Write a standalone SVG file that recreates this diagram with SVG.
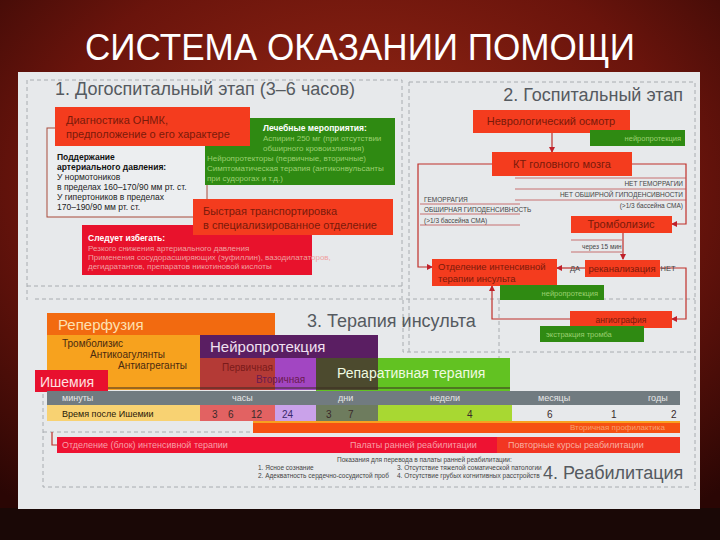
<svg xmlns="http://www.w3.org/2000/svg" width="720" height="540" viewBox="0 0 720 540">
<defs>
<radialGradient id="bg" cx="0.5" cy="0.35" r="0.75">
<stop offset="0" stop-color="#9c2a16"/>
<stop offset="0.6" stop-color="#6a140c"/>
<stop offset="1" stop-color="#2a0604"/>
</radialGradient>
<marker id="dot" viewBox="0 0 6 6" refX="5" refY="3" markerWidth="5" markerHeight="5" orient="auto"><path d="M0,0 L6,3 L0,6 z" fill="#c0202a"/></marker>
</defs>
<style>
text{font-family:"Liberation Sans",Arial,sans-serif}
.sec{font-size:18px;fill:#555a60}
.dash{fill:none;stroke:#a8acb0;stroke-width:1;stroke-dasharray:4 3}
.red{fill:#f43c1e}
.rt{font-size:11px;fill:#7a1a0a}
.grn{fill:#2f8a12}
.gt{font-size:8px;fill:#9ad070}
.wl{font-size:8px;fill:#f0a0a0}
.con{fill:none;stroke:#c0302a;stroke-width:1.2}
.thin{stroke:#c05050;stroke-width:0.8}
.sm{font-size:6.5px;fill:#444}
.bt{font-size:8.5px;fill:#222}
.tl{font-size:9px;fill:#e8e8e8}
.tn{font-size:10px;fill:#4a2a10}
</style>
<rect width="720" height="540" fill="url(#bg)"/>
<rect y="508" width="720" height="32" fill="#1a0806"/>
<text x="360" y="60" text-anchor="middle" font-size="36" fill="#ffffff" textLength="550" lengthAdjust="spacingAndGlyphs">СИСТЕМА ОКАЗАНИИ ПОМОЩИ</text>

<rect x="18" y="72" width="682" height="437" fill="#e7e9eb"/>

<g id="dashes">
<path class="dash" d="M27 80 V300"/>
<path class="dash" d="M30 80 H402 V298"/>
<path class="dash" d="M27 286 H402"/>
<path class="dash" d="M35 299 H695"/>
<path class="dash" d="M409 82 H695 V490"/>
<path class="dash" d="M409 82 V352"/>
<path class="dash" d="M403 300 V352 H695"/>
<path class="dash" d="M499 300 V420"/>
<path class="dash" d="M43 380 V487 H690"/>
<path class="dash" d="M43 432 H253"/>
</g>

<g id="s1">
<text class="sec" x="55" y="95">1. Догоспитальный этап (3–6 часов)</text>
</g>

<g id="bp">
<rect x="47" y="128" width="160" height="89" fill="#eceef0" stroke="#a84a3a" stroke-width="1"/>
<text x="57" y="160" font-size="8.5" font-weight="bold" fill="#111">Поддержание</text>
<text x="57" y="170" font-size="8.5" font-weight="bold" fill="#111">артериального давления:</text>
<text class="bt" x="57" y="180">У нормотоников</text>
<text class="bt" x="57" y="190">в пределах 160–170/90 мм рт. ст.</text>
<text class="bt" x="57" y="200">У гипертоников в пределах</text>
<text class="bt" x="57" y="210">170–190/90 мм рт. ст.</text>
</g>

<g id="treat">
<rect class="grn" x="205" y="118" width="190" height="67"/>
<text x="263" y="131" font-size="8.5" font-weight="bold" fill="#ffffff">Лечебные мероприятия:</text>
<text class="gt" x="263" y="141">Аспирин 250 мг (при отсутствии</text>
<text class="gt" x="263" y="151">обширного кровоизлияния)</text>
<text class="gt" x="207" y="161">Нейропротекторы (первичные, вторичные)</text>
<text class="gt" x="207" y="171">Симптоматическая терапия (антиконвульсанты</text>
<text class="gt" x="207" y="181">при судорогах и т.д.)</text>
</g>

<g id="diag">
<rect class="red" x="55" y="107" width="195" height="39"/>
<text class="rt" x="66" y="124">Диагностика ОНМК,</text>
<text class="rt" x="66" y="138">предположение о его характере</text>
</g>

<g id="avoid">
<rect x="82" y="225" width="230" height="50" fill="#e8122c"/>
<text x="88" y="241" font-size="8.5" font-weight="bold" fill="#ffffff">Следует избегать:</text>
<text class="wl" x="88" y="251">Резкого снижения артериального давления</text>
<text class="wl" x="88" y="260">Применения сосудорасширяющих (эуфиллин), вазодилататоров,</text>
<text class="wl" x="88" y="269">дегидратантов, препаратов никотиновой кислоты</text>
</g>

<g id="transport">
<rect class="red" x="193" y="199" width="200" height="36"/>
<text class="rt" x="203" y="215">Быстрая транспортировка</text>
<text class="rt" x="203" y="229">в специализированное отделение</text>
</g>

<g id="s2">
<text class="sec" x="683" y="101" text-anchor="end">2. Госпитальный этап</text>
</g>

<g id="connectors">
<path class="con" d="M552 133 V152" marker-end="url(#dot)"/>
<path class="con" d="M492 164 H418 V267 H432" marker-end="url(#dot)"/>
<path class="con" d="M632 164 H686 V224 H672" marker-end="url(#dot)"/>
<path class="con" d="M623 232 V259" marker-end="url(#dot)"/>
<path class="con" d="M585 268 H557" marker-end="url(#dot)"/>
<path class="con" d="M660 268 H686 V319 H672" marker-end="url(#dot)"/>
<path class="con" d="M570 319 H492 V286" marker-end="url(#dot)"/>
<path class="thin" d="M515 178 H686 M515 189 H686 M515 200 H686 M420 204 H520 M420 214 H520 M420 225 H520 M571 240 H622 M571 252 H622"/>
<path class="con" d="M52 432 V445 H57"/>
</g>

<g id="neuro-exam">
<rect class="red" x="473" y="110" width="157" height="23"/>
<text class="rt" x="551" y="125" text-anchor="middle">Неврологический осмотр</text>
</g>
<g id="np1">
<rect class="grn" x="590" y="130" width="95" height="16"/>
<text x="681" y="141" font-size="7.5" fill="#9ad070" text-anchor="end">нейропротекция</text>
</g>
<g id="ct">
<rect class="red" x="492" y="152" width="140" height="24"/>
<text class="rt" x="562" y="168" text-anchor="middle">КТ головного мозга</text>
</g>
<g id="labels-ct">
<text x="683" y="186" font-size="6.5" fill="#444" text-anchor="end">НЕТ ГЕМОРРАГИИ</text>
<text x="683" y="197" font-size="6.5" fill="#444" text-anchor="end">НЕТ ОБШИРНОЙ ГИПОДЕНСИВНОСТИ</text>
<text x="683" y="208" font-size="6.5" fill="#444" text-anchor="end">(&gt;1/3 бассейна СМА)</text>
<text x="424" y="202" font-size="6.5" fill="#444">ГЕМОРРАГИЯ</text>
<text x="424" y="212" font-size="6.5" fill="#444">ОБШИРНАЯ ГИПОДЕНСИВНОСТЬ</text>
<text x="424" y="223" font-size="6.5" fill="#444">(&gt;1/3 бассейна СМА)</text>
<text x="582" y="249" font-size="6.5" fill="#444">через 15 мин</text>
<text x="575" y="271" font-size="7.5" fill="#444" text-anchor="middle">ДА</text>
<text x="668" y="271" font-size="7.5" fill="#444" text-anchor="middle">НЕТ</text>
</g>
<g id="tlz">
<rect class="red" x="571" y="216" width="101" height="17"/>
<text class="rt" x="621" y="228" text-anchor="middle">Тромболизис</text>
</g>
<g id="recan">
<rect class="red" x="585" y="260" width="75" height="17"/>
<text x="622" y="272" font-size="9.5" fill="#7a1a0a" text-anchor="middle">реканализация</text>
</g>
<g id="icu">
<rect class="red" x="432" y="259" width="125" height="27"/>
<text x="438" y="270" font-size="9.5" fill="#7a1a0a">Отделение интенсивной</text>
<text x="438" y="282" font-size="9.5" fill="#7a1a0a">терапии инсульта</text>
</g>
<g id="np2">
<rect class="grn" x="500" y="285" width="104" height="15"/>
<text x="598" y="296" font-size="7.5" fill="#9ad070" text-anchor="end">нейропротекция</text>
</g>
<g id="angio">
<rect class="red" x="570" y="311" width="102" height="17"/>
<text x="621" y="323" font-size="8.5" fill="#7a1a0a" text-anchor="middle">ангиография</text>
</g>
<g id="extr">
<rect class="grn" x="540" y="326" width="104" height="16"/>
<text x="546" y="337" font-size="7.5" fill="#9ad070">экстракция тромба</text>
</g>

<g id="s3">
<text class="sec" x="307" y="327">3. Терапия инсульта</text>
</g>
<g id="reperf">
<rect x="47" y="313" width="228" height="22" fill="#f26a10"/>
<rect x="47" y="335" width="228" height="55" fill="#f7a21e"/>
<text x="58" y="330" font-size="15" fill="#fde0b0">Реперфузия</text>
<text class="tn" x="62" y="347">Тромболизис</text>
<text class="tn" x="90" y="358">Антикоагулянты</text>
<text class="tn" x="118" y="369">Антиагреганты</text>
</g>
<g id="neuroprot">
<rect x="200" y="335" width="178" height="23" fill="#5a1e62"/>
<rect x="200" y="358" width="75" height="32" fill="#b43a36"/>
<rect x="275" y="358" width="41" height="32" fill="#a246c2"/>
<text x="210" y="352" font-size="15" fill="#f0e0f0">Нейропротекция</text>
<text x="222" y="371" font-size="10" fill="#7a1a1a">Первичная</text>
<text x="256" y="383" font-size="10" fill="#6a1a50">Вторичная</text>
</g>
<g id="repar">
<rect x="316" y="358" width="194" height="35" fill="#62c222"/>
<rect x="316" y="358" width="62" height="32" fill="#4c4a2e"/>
<text x="337" y="378" font-size="14" fill="#f0fae0">Репаративная терапия</text>
</g>
<g id="ischemia">
<rect x="35" y="370" width="73" height="22" fill="#e8102e"/>
<text x="40" y="387" font-size="14" fill="#ffe0e0">Ишемия</text>
<path d="M108 388 H510" stroke="#3a2a20" stroke-width="1"/>
</g>
<g id="timeline">
<rect x="47" y="391" width="633" height="14" fill="#717b80"/>
<text class="tl" x="62" y="401">минуты</text>
<text class="tl" x="232" y="401">часы</text>
<text class="tl" x="338" y="401">дни</text>
<text class="tl" x="430" y="401">недели</text>
<text class="tl" x="538" y="401">месяцы</text>
<text class="tl" x="648" y="401">годы</text>
<rect x="47" y="405" width="153" height="16" fill="#f8d272"/>
<rect x="200" y="405" width="75" height="16" fill="#e26262"/>
<rect x="275" y="405" width="41" height="16" fill="#caa2ea"/>
<rect x="316" y="405" width="62" height="16" fill="#6e7c5e"/>
<rect x="378" y="405" width="134" height="16" fill="#a8d832"/>
<text x="62" y="417" font-size="9" fill="#2a1a0a">Время после Ишемии</text>
<g font-size="10" fill="#3a2a2a">
<text x="212" y="418">3</text><text x="228" y="418">6</text><text x="251" y="418">12</text>
<text x="282" y="418" fill="#3a2a6a">24</text>
<text x="326" y="418">3</text><text x="348" y="418">7</text>
<text x="467" y="418">4</text>
<text x="547" y="418">6</text><text x="611" y="418">1</text><text x="671" y="418">2</text>
</g>
</g>

<g id="s4">
<rect x="253" y="421" width="427" height="12" fill="#f65012"/>
<rect x="253" y="421" width="427" height="2" fill="#f8a020"/>
<text x="570" y="430" font-size="8" fill="#f8a070">Вторичная профилактика</text>
<rect x="57" y="437" width="440" height="16" fill="#ee1232"/>
<rect x="497" y="437" width="183" height="16" fill="#f23622"/>
<text x="62" y="448" font-size="9" fill="#f8a0a8">Отделение (блок) интенсивной терапии</text>
<text x="350" y="448" font-size="9" fill="#f8a0a8">Палаты ранней реабилитации</text>
<text x="508" y="448" font-size="9" fill="#f8b0a0">Повторные курсы реабилитации</text>
<text class="sm" x="337" y="462">Показания для перевода в палаты ранней реабилитации:</text>
<text class="sm" x="258" y="470">1. Ясное сознание</text>
<text class="sm" x="258" y="478">2. Адекватность сердечно-сосудистой проб</text>
<text class="sm" x="397" y="470">3. Отсутствие тяжелой соматической патологии</text>
<text class="sm" x="397" y="478">4. Отсутствие грубых когнитивных расстройств</text>
<text class="sec" x="543" y="479">4. Реабилитация</text>
</g>
</svg>
